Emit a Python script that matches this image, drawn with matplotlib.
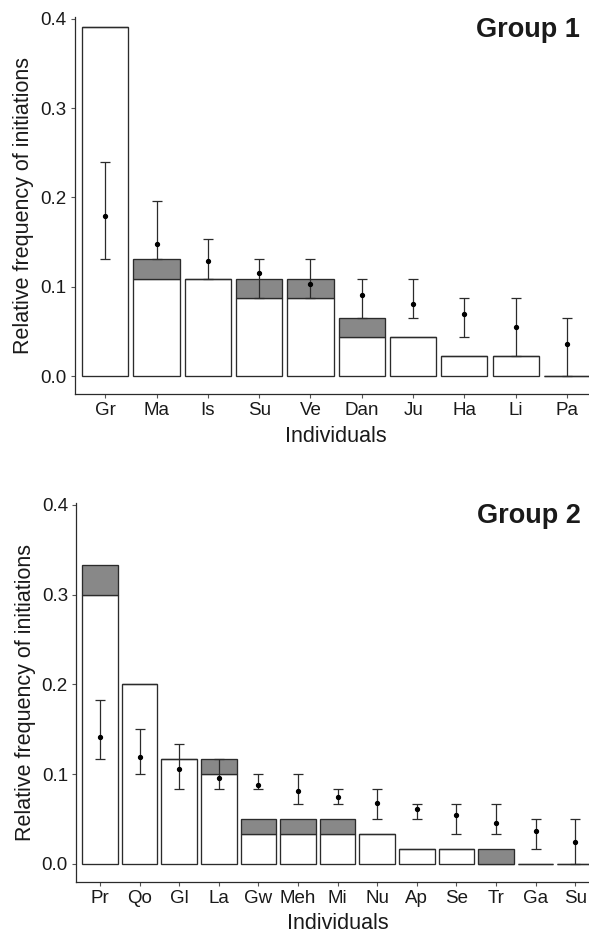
import numpy as np
import matplotlib.pyplot as plt

plt.rcParams['font.family'] = ['Liberation Sans', 'DejaVu Sans']

# Group 1
g1_names = ['Gr', 'Ma', 'Is', 'Su', 'Ve', 'Dan', 'Ju', 'Ha', 'Li', 'Pa']
g1_white = [0.391, 0.109, 0.109, 0.087, 0.087, 0.0435, 0.0435, 0.022, 0.022, 0.0]
g1_gray = [0.0, 0.022, 0.0, 0.022, 0.022, 0.0215, 0.0, 0.0, 0.0, 0.0]
g1_mean = [0.179, 0.148, 0.129, 0.115, 0.103, 0.091, 0.081, 0.069, 0.055, 0.036]
g1_lo = [0.131, 0.131, 0.109, 0.087, 0.087, 0.065, 0.065, 0.0435, 0.022, 0.0]
g1_hi = [0.240, 0.196, 0.153, 0.131, 0.131, 0.109, 0.109, 0.087, 0.087, 0.065]

# Group 2
g2_names = ['Pr', 'Qo', 'Gl', 'La', 'Gw', 'Meh', 'Mi', 'Nu', 'Ap', 'Se', 'Tr', 'Ga', 'Su']
g2_white = [0.300, 0.200, 0.117, 0.100, 0.033, 0.033, 0.033, 0.033, 0.017, 0.017, 0.0, 0.0, 0.0]
g2_gray = [0.033, 0.0, 0.0, 0.017, 0.017, 0.017, 0.017, 0.0, 0.0, 0.0, 0.017, 0.0, 0.0]
g2_mean = [0.141, 0.119, 0.106, 0.096, 0.088, 0.081, 0.074, 0.068, 0.061, 0.054, 0.046, 0.037, 0.024]
g2_lo = [0.117, 0.100, 0.083, 0.083, 0.083, 0.067, 0.067, 0.050, 0.050, 0.033, 0.033, 0.017, 0.0]
g2_hi = [0.183, 0.150, 0.133, 0.117, 0.100, 0.100, 0.083, 0.083, 0.067, 0.067, 0.067, 0.050, 0.050]

edge = '#2b2b2b'
W, H = 589, 933
fig = plt.figure(figsize=(W / 100, H / 100), dpi=100)


def panel(rect, names, white, gray, mean, lo, hi, title):
    ax = fig.add_axes(rect)
    x = np.arange(len(names))
    white = np.array(white)
    gray = np.array(gray)
    mean = np.array(mean)
    ax.bar(x, white, width=0.9, color='white', edgecolor=edge, linewidth=0.95, zorder=2)
    ax.bar(x, gray, width=0.9, bottom=white, color='#888888', edgecolor=edge,
           linewidth=0.95, zorder=2)
    yerr = np.vstack([mean - np.array(lo), np.array(hi) - mean])
    ax.errorbar(x, mean, yerr=yerr, fmt='o', color='black', ecolor=edge,
                elinewidth=0.9, capsize=3.3, capthick=0.9, markersize=2.8, zorder=3)
    ax.set_xlim(-0.6, len(names) - 0.4)
    ax.set_ylim(-0.02, 0.402)
    ax.set_yticks([0.0, 0.1, 0.2, 0.3, 0.4])
    ax.set_yticklabels(['0.0', '0.1', '0.2', '0.3', '0.4'])
    ax.set_xticks(x)
    ax.set_xticklabels(names)
    for s in ['top', 'right']:
        ax.spines[s].set_visible(False)
    for s in ['left', 'bottom']:
        ax.spines[s].set_color(edge)
        ax.spines[s].set_linewidth(0.9)
    ax.tick_params(length=3, width=0.8, color='#555555', labelsize=13.5,
                   labelcolor='#1a1a1a', pad=3)
    ax.set_xlabel('Individuals', fontsize=15.5, color='#1a1a1a', labelpad=4.5)
    ax.set_ylabel('Relative frequency of initiations', fontsize=15.5,
                  color='#1a1a1a', labelpad=4)
    ax.text(0.965, 0.965, title, transform=ax.transAxes, ha='right', va='center',
            fontsize=19.5, fontweight='bold', color='#1a1a1a')
    return ax


# axes placed in pixel units of the reference
ax1 = panel([74.5 / W, 1 - 394 / H, 523.3 / W, 377 / H],
            g1_names, g1_white, g1_gray, g1_mean, g1_lo, g1_hi, 'Group 1')
ax2 = panel([76.3 / W, 1 - 881.7 / H, 522.7 / W, 378.5 / H],
            g2_names, g2_white, g2_gray, g2_mean, g2_lo, g2_hi, 'Group 2')

fig.savefig('out.png', dpi=100)
